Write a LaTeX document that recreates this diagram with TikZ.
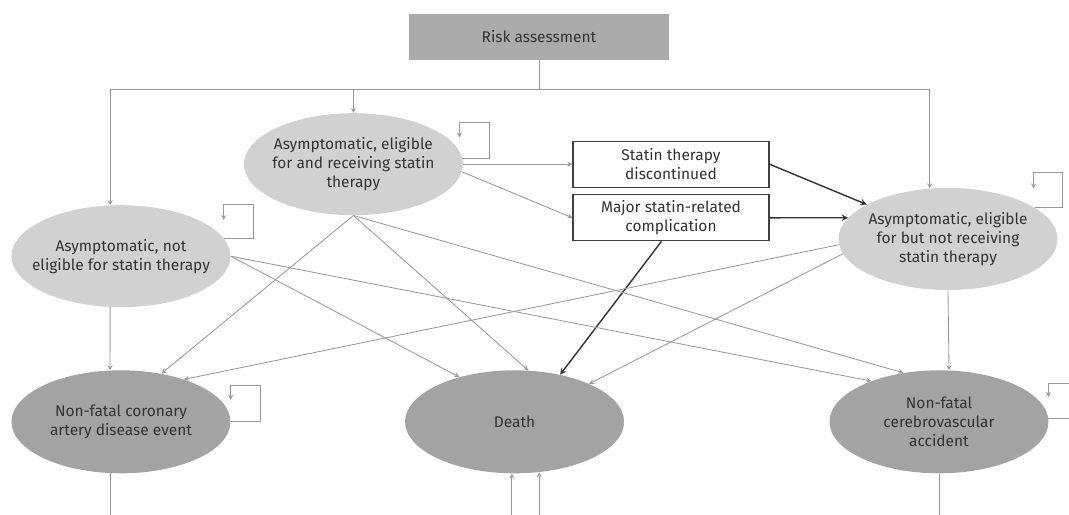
\documentclass[tikz,border=0pt]{standalone}
\usepackage{fontspec}
\setmainfont{Fira Sans}
\usetikzlibrary{shapes.geometric, arrows}
\tikzstyle{riskbox} = [rectangle, minimum width=6.5cm, minimum height=1.15cm, text centered, fill=black!33]
\tikzstyle{lightstate} = [ellipse, minimum width=5.475cm, minimum height=2.55cm, inner xsep=-2cm, inner ysep=-1cm, align=center, fill=black!18]
\tikzstyle{darkstate} = [ellipse, minimum width=5.475cm, minimum height=2.575cm, inner xsep=-2cm, inner ysep=-1cm, align=center, fill=black!36]
\tikzstyle{eventbox} = [rectangle, minimum width=4.9cm, minimum height=1.15cm, align=center, draw=black!75, line width=0.8pt, fill=white]
\tikzstyle{arrow} = [->,>=stealth, draw=black!40, line width=0.6pt]
\tikzstyle{blackarrow} = [->,>=stealth, draw=black!80, line width=1pt]
\tikzstyle{gline} = [draw=black!40, line width=0.6pt]

\begin{document}
\begin{tikzpicture}[node distance=2cm, every node/.style={font=\fontsize{11}{13.5}\selectfont, text=black!80}]

\useasboundingbox (-13.475,0.925) rectangle (13.25,-11.95);

\node (risk) [riskbox] {Risk assessment};

\node (recv) [lightstate, below of=risk, xshift=-4.64cm, yshift=-1.18cm] {Asymptomatic, eligible\\for and receiving statin\\therapy};
\node (noelig) [lightstate, below of=recv, xshift=-5.81cm, yshift=-0.3cm] {Asymptomatic, not\\eligible for statin therapy};
\node (norecv) [lightstate, below of=risk, xshift=10.225cm, yshift=-3.05cm] {Asymptomatic, eligible\\for but not receiving\\statin therapy};

\node (discont) [eventbox, right of=recv, xshift=5.94cm] {Statin therapy\\discontinued};
\node (compl) [eventbox, below of=discont, yshift=0.66cm] {Major statin-related\\complication};

\node (cad) [darkstate, below of=noelig, yshift=-2.14cm] {Non-fatal coronary\\artery disease event};
\node (death) [darkstate, right of=cad, xshift=7.84cm] {Death};
\node (cva) [darkstate, right of=death, xshift=8.61cm] {Non-fatal\\cerebrovascular\\accident};

\coordinate (bottom) at (0,-12.2);

% entry from risk assessment
\draw [gline] (risk.south) -- ++(0,-0.74) coordinate (split);
\draw [arrow] (split) -| (noelig.102);
\draw [arrow] (split) -| (recv.north);
\draw [arrow] (split) -| (norecv.110);

% staying in the same state
\draw [arrow] (recv.3) -- ++(0.675,0) -- ++(0,0.9) -- ++(-0.75,0) -- ++(0,-0.375);
\draw [arrow] (noelig.10) -- ++(0.75,0) -- ++(0,0.85) -- ++(-0.75,0) -- ++(0,-0.4);
\draw [arrow] (norecv.20) -- ++(0.7,0) -- ++(0,0.875) -- ++(-0.725,0) -- ++(0,-0.4);
\draw [arrow] (cad.east) -- ++(0.75,0) -- ++(0,0.9) -- ++(-0.75,0) -- ++(0,-0.35);
\draw [arrow] (cva.2) -- ++(1,0) -- ++(0,0.875) -- ++(-1,0) -- ++(0,-0.35);

\draw [arrow] (recv.east) -- (discont.west);
\draw [arrow] (recv.-4) -- (compl.west);
\draw [blackarrow] (discont.east) -- (norecv.157);
\draw [blackarrow] (compl.east) -- (norecv.168);
\draw [blackarrow] (compl.248) -- (death.46);

\draw [arrow] (recv.south) -- (cad.50);
\draw [arrow] (recv.south) -- (death.75);
\draw [arrow] (recv.south) -- (cva.126);

\draw [arrow] (noelig.258) -- (cad.102);
\draw [arrow] (noelig.east) -- (death.141);
\draw [arrow] (noelig.east) -- (cva.149);

\draw [arrow] (norecv.183) -- (cad.34);
\draw [arrow] (norecv.188) -- (death.27);
\draw [arrow] (norecv.south) -- (cva.79);

% leaving the picture
\draw [gline] (cad.258) -- (cad.258 |- bottom);
\draw [gline] (cva.south) -- (cva.south |- bottom);
\draw [arrow] (death.267 |- bottom) -- (death.267);
\draw [arrow] (death.296 |- bottom) -- (death.296);

\end{tikzpicture}
\end{document}
